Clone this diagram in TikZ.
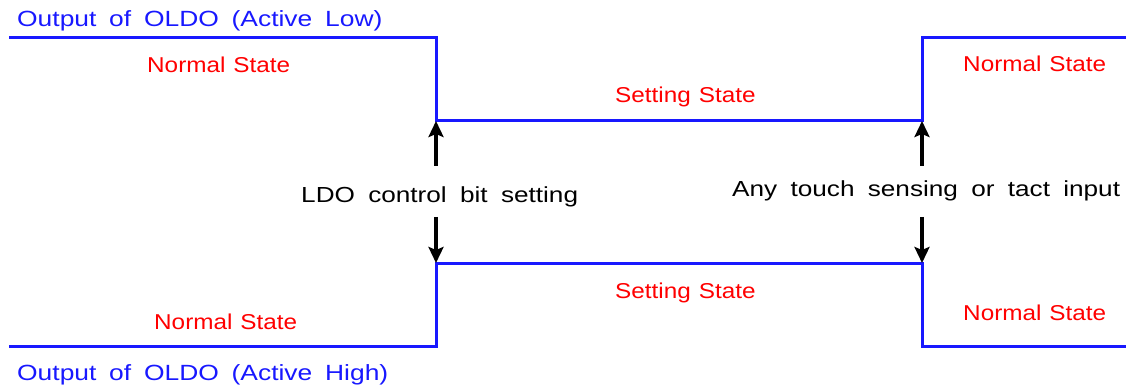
\documentclass[tikz,border=0pt]{standalone}
\usepackage{fontspec}
\setmainfont{Liberation Sans}[FakeStretch=1.13]
\newfontfamily\widesans{Liberation Sans}[FakeStretch=1.2]
\usetikzlibrary{arrows.meta}
\definecolor{sigblue}{RGB}{24,24,255}
\definecolor{statered}{RGB}{255,0,0}
% text faces with their own word spacing
\newcommand\titleface{\widesans\fontsize{22}{26}\selectfont\spaceskip 12.8pt\relax}
\newcommand\stateface{\fontsize{21.5}{25}\selectfont\spaceskip 8pt\relax}
\newcommand\eventface{\widesans\fontsize{21.8}{25}\selectfont\spaceskip 13.3pt\relax}
\begin{document}
\begin{tikzpicture}[x=1pt,y=-1pt,
  wave/.style={draw=sigblue, line width=3pt, line join=miter},
  trigger/.style={draw=black, line width=3.5pt,
    -{Stealth[length=16pt,width=15pt,inset=3pt]}},
  title/.style={text=sigblue, font=\titleface,
    anchor=base west, inner sep=0pt},
  statelbl/.style={text=statered, font=\stateface,
    anchor=base west, inner sep=0pt},
  eventlbl/.style={text=black, font=\eventface,
    anchor=base west, inner sep=0pt}]
\useasboundingbox (0,0) rectangle (1126,387);

% corners of the active-low output
\coordinate (l0) at (9,38);
\coordinate (l1) at (436,38);
\coordinate (l2) at (436,121);
\coordinate (l3) at (922,121);
\coordinate (l4) at (922,38);
\coordinate (l5) at (1126,38);
% corners of the active-high output
\coordinate (h0) at (9,346);
\coordinate (h1) at (436,346);
\coordinate (h2) at (436,263);
\coordinate (h3) at (922,263);
\coordinate (h4) at (922,346);
\coordinate (h5) at (1126,346);

\draw[wave] (l0) -- (l1) -- (l2) -- (l3) -- (l4) -- (l5);
\draw[wave] (h0) -- (h1) -- (h2) -- (h3) -- (h4) -- (h5);

% event arrow stubs
\coordinate (s1u) at (436,166);
\coordinate (s1d) at (436,217);
\coordinate (s2u) at (922,166);
\coordinate (s2d) at (922,217);
\draw[trigger] (s1u) -- (l2);
\draw[trigger] (s1d) -- (h2);
\draw[trigger] (s2u) -- (l3);
\draw[trigger] (s2d) -- (h3);

% labels
\node[title] (tlow) at (17,27) {Output of OLDO (Active Low)};
\node[title] (thigh) at (17,380) {Output of OLDO (Active High)};

\node[statelbl] (n1) at (147,73) {Normal State};
\node[statelbl] (s1) at (615,103) {Setting State};
\node[statelbl] (n2) at (963,72) {Normal State};
\node[statelbl] (n3) at (154,329) {Normal State};
\node[statelbl] (s2) at (615,298) {Setting State};
\node[statelbl] (n4) at (963,320) {Normal State};

\node[eventlbl] (e1) at (301,203) {LDO control bit setting};
\node[eventlbl] (e2) at (732,197) {Any touch sensing or tact input};
\end{tikzpicture}
\end{document}
